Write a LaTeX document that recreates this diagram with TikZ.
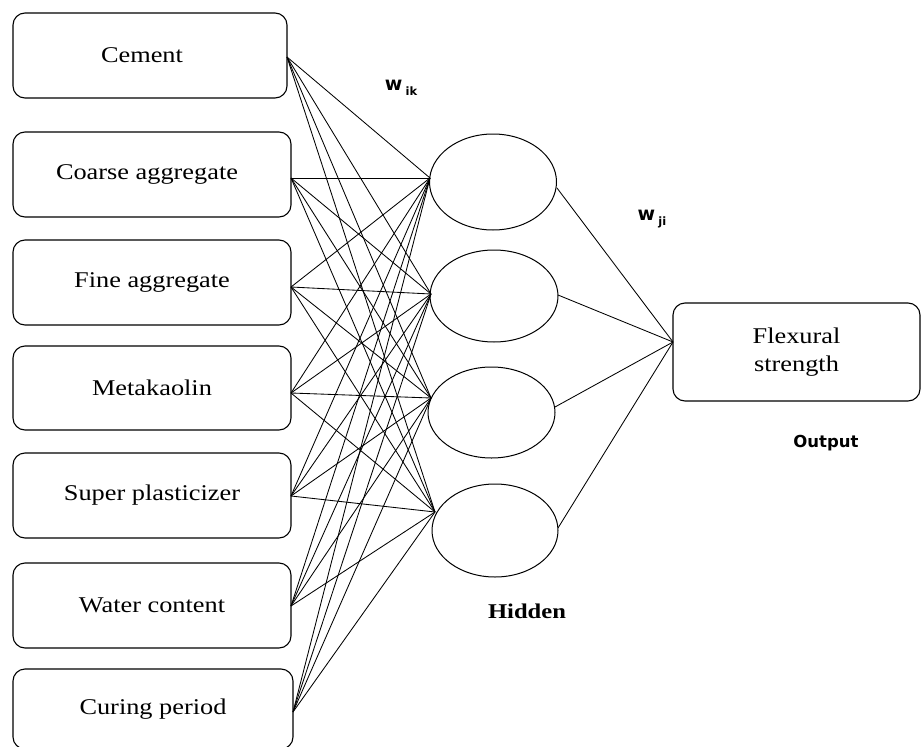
\documentclass[tikz,border=0pt]{standalone}
\usepackage{fontspec}
\setmainfont{Liberation Serif}[FakeStretch=1.17]
\newfontfamily\lblfont{DejaVu Sans}
\usetikzlibrary{shapes.geometric}
\begin{document}
\begin{tikzpicture}[x=1pt,y=-1pt,
  inbox/.style={draw, line width=1.1pt, rounded corners=12pt, inner sep=0pt,
    font=\fontsize{22.5}{28.5}\selectfont, align=center},
  hid/.style={draw, line width=1pt, ellipse, inner sep=0pt},
  wire/.style={line width=0.85pt},
  lbl/.style={inner sep=0pt}
]
\useasboundingbox (0,0) rectangle (922,747);
% input boxes
\node[inbox, minimum width=274pt, minimum height=85pt] (i1) at (150,55.5) {Cement\hspace*{16pt}};
\node[inbox, minimum width=278pt, minimum height=85pt] (i2) at (152,174.5) {Coarse aggregate\hspace*{10pt}};
\node[inbox, minimum width=278pt, minimum height=85pt] (i3) at (152,282.5) {Fine aggregate};
\node[inbox, minimum width=278pt, minimum height=84pt] (i4) at (152,388) {Metakaolin};
\node[inbox, minimum width=278pt, minimum height=85pt] (i5) at (152,495.5) {Super plasticizer};
\node[inbox, minimum width=278pt, minimum height=85pt] (i6) at (152,605.5) {Water content};
\node[inbox, minimum width=280pt, minimum height=80pt] (i7) at (153,709) {Curing period};
% hidden ellipses
\node[hid, minimum width=127pt, minimum height=96pt] (h1) at (493,182) {};
\node[hid, minimum width=128pt, minimum height=92pt] (h2) at (494,296) {};
\node[hid, minimum width=127pt, minimum height=91pt] (h3) at (491.5,412.5) {};
\node[hid, minimum width=126pt, minimum height=93pt] (h4) at (495,530.5) {};
% output box
\node[inbox, minimum width=247pt, minimum height=98pt] (o) at (796.5,352) {Flexural\\strength};
% connection points
\coordinate (c1) at (287,57);
\coordinate (c2) at (291,178);
\coordinate (c3) at (291,287);
\coordinate (c4) at (291,393);
\coordinate (c5) at (291,496);
\coordinate (c6) at (291,606);
\coordinate (c7) at (293,712);
\coordinate (d1) at (430,178);
\coordinate (d2) at (431,294);
\coordinate (d3) at (431,398);
\coordinate (d4) at (435,512);
\coordinate (e1) at (557,188);
\coordinate (e2) at (558,295);
\coordinate (e3) at (555,407);
\coordinate (e4) at (558,528);
\coordinate (oin) at (673,342);
% input -> hidden
\foreach \i in {1,...,7}{
  \foreach \j in {1,...,4}{
    \draw[wire] (c\i) -- (d\j);
  }
}
% hidden -> output
\foreach \j in {1,...,4}{
  \draw[wire] (e\j) -- (oin);
}
% labels
\node[lbl] (wik) at (401,88) {\lblfont\bfseries\fontsize{19}{22}\selectfont w\,\raisebox{-5pt}{\fontsize{11.5}{13}\selectfont ik}};
\node[lbl] (wji) at (652,219) {\lblfont\bfseries\fontsize{19}{22}\selectfont w\,\raisebox{-5pt}{\fontsize{11.5}{13}\selectfont ji}};
\node[lbl] (hl) at (527,611) {\bfseries\fontsize{21}{26}\selectfont Hidden};
\node[lbl] (ol) at (826,443) {\lblfont\bfseries\fontsize{16.5}{20}\selectfont Output};
\end{tikzpicture}
\end{document}
